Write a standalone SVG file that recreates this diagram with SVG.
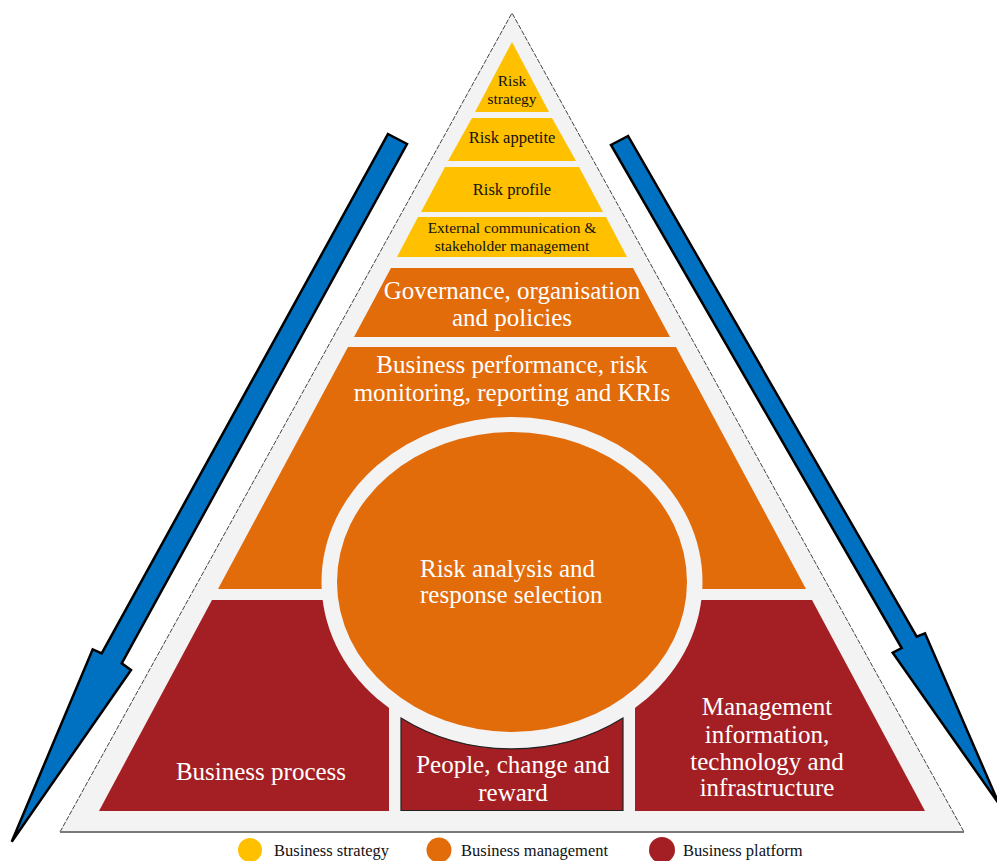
<svg xmlns="http://www.w3.org/2000/svg" width="997" height="861" viewBox="0 0 997 861">
<style>
.yel{fill:#FFC000}
.org{fill:#E26B0A}
.red{fill:#A41F23}
.bg{fill:#F3F3F3}
.arrow{fill:#0070C0;stroke:#000;stroke-width:2.5;stroke-linejoin:miter}
text{font-family:"Liberation Serif","Times New Roman",serif}
.w{fill:#fff;font-size:25px;text-anchor:middle}
.k{fill:#111;font-size:16.5px;text-anchor:middle}
.k2{fill:#111;font-size:15.5px;text-anchor:middle}
.lg{fill:#111;font-size:16.5px}
</style>
<rect width="997" height="861" fill="#fff"/>
<g id="outer-triangle">
<polygon points="512,13 964,832 60,832" class="bg"/>
<path d="M60,832 L512,13 L964,832" fill="none" stroke="#444" stroke-width="1" stroke-dasharray="5 1.5"/>
<line x1="60" y1="832" x2="964" y2="832" stroke="#7a7a7a" stroke-width="2"/>
</g>
<g id="connectors">
<path class="arrow" d="M388,134 L407,144 L121.7,663.3 L131,670 L11.7,841.7 L92.7,649.3 L101.7,653.3 Z"/>
<path class="arrow" d="M628,136 L611,145 L901.7,648 L892.7,652.7 L999,804 L925,633.3 L916.7,636.7 Z"/>
</g>
<g id="risk-strategy">
<polygon class="yel" points="512,42 549,112 475,112"/>
<text class="k2" x="512" y="86">Risk</text>
<text class="k2" x="512" y="104">strategy</text>
</g>
<g id="risk-appetite">
<polygon class="yel" points="472,118 552,118 576,161 448,161"/>
<text class="k" x="512" y="142.5">Risk appetite</text>
</g>
<g id="risk-profile">
<polygon class="yel" points="445,167 579,167 603,212 421,212"/>
<text class="k" x="512" y="195">Risk profile</text>
</g>
<g id="external-communication">
<polygon class="yel" points="418,217 606,217 627,257 397,257"/>
<text class="k2" x="512" y="233">External communication &amp;</text>
<text class="k2" x="512" y="251">stakeholder management</text>
</g>
<g id="governance">
<polygon class="org" points="391,268 633,268 670,337 354,337"/>
<text class="w" x="512" y="299">Governance, organisation</text>
<text class="w" x="512" y="326">and policies</text>
</g>
<g id="business-performance">
<polygon class="org" points="348,347 676,347 806,589 218,589"/>
<text class="w" x="512" y="373">Business performance, risk</text>
<text class="w" x="512" y="401">monitoring, reporting and KRIs</text>
</g>
<g id="business-process">
<polygon class="red" points="212,600 400,600 389,811 99,811"/>
<text class="w" x="261" y="780">Business process</text>
</g>
<g id="management-information">
<polygon class="red" points="624,600 812,600 925,811 635,811"/>
</g>
<g id="ring">
<rect class="bg" x="389" y="600" width="12" height="211"/>
<rect class="bg" x="623" y="600" width="12" height="211"/>
<ellipse class="bg" cx="512" cy="582" rx="190.5" ry="165"/>
</g>
<g id="people">
<path class="red" d="M401,810.5 L401,718 A190.5 165 0 0 0 623,718 L623,810.5 Z" stroke="#222" stroke-width="1.2"/>
<text class="w" x="513" y="773">People, change and</text>
<text class="w" x="513" y="800.5">reward</text>
</g>
<g id="management-text">
<text class="w" x="767" y="715">Management</text>
<text class="w" x="767" y="743">information,</text>
<text class="w" x="767" y="770">technology and</text>
<text class="w" x="767" y="796">infrastructure</text>
</g>
<g id="risk-analysis">
<ellipse class="org" cx="512" cy="582" rx="175" ry="150"/>
<text class="w" x="420" y="577" style="text-anchor:start">Risk analysis and</text>
<text class="w" x="420" y="603" style="text-anchor:start">response selection</text>
</g>
<g id="legend">
<circle class="yel" cx="250" cy="850" r="12"/>
<text class="lg" x="274" y="856">Business strategy</text>
<circle class="org" cx="439" cy="850" r="12.5"/>
<text class="lg" x="461" y="856">Business management</text>
<circle class="red" cx="662" cy="850" r="13"/>
<text class="lg" x="683" y="856">Business platform</text>
</g>
</svg>
